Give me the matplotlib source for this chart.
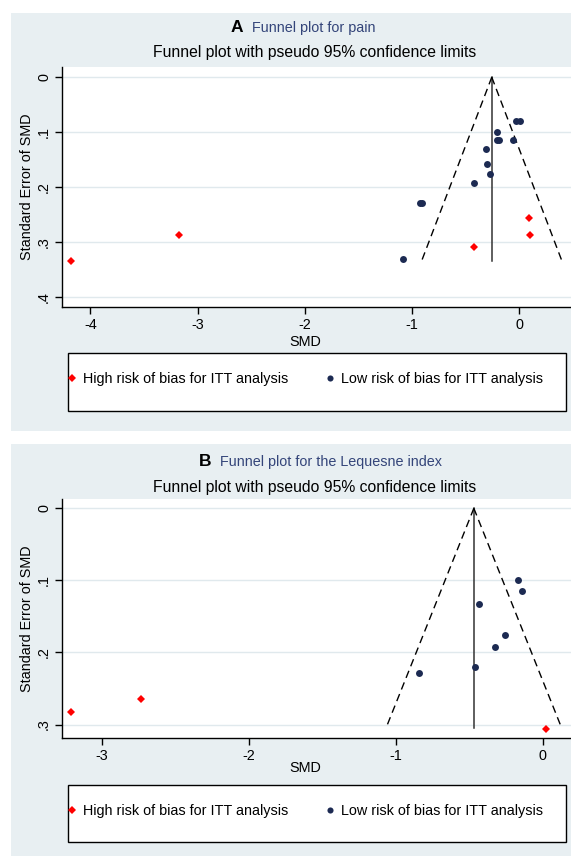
import numpy as np
import matplotlib
matplotlib.use("Agg")
import matplotlib.pyplot as plt
from matplotlib.patches import Rectangle
from matplotlib.lines import Line2D

plt.rcParams['font.family'] = ['Liberation Sans', 'DejaVu Sans']

# Panel A: pain
pain_low_smd = [-0.031, 0.007, -0.211, -0.205, -0.187, -0.056, -0.313, -0.299, -0.273, -0.420, -0.926, -0.908, -1.082]
pain_low_se = [0.0795, 0.0795, 0.0995, 0.115, 0.115, 0.1145, 0.131, 0.158, 0.176, 0.193, 0.229, 0.229, 0.331]
pain_high_smd = [0.090, 0.100, -0.420, -4.179, -3.177]
pain_high_se = [0.256, 0.287, 0.308, 0.3335, 0.287]
pain_pooled = -0.257
pain_se_max = 0.334

# Panel B: Lequesne index
leq_low_smd = [-0.166, -0.143, -0.433, -0.259, -0.322, -0.463, -0.844]
leq_low_se = [0.0994, 0.1143, 0.1327, 0.176, 0.192, 0.2205, 0.228]
leq_high_smd = [0.022, -3.207, -2.735]
leq_high_se = [0.306, 0.2825, 0.265]
leq_pooled = -0.468
leq_se_max = 0.305

W, H = 571, 856
BG = '#e8eff2'
NAVY = '#1c2a52'
TITLE_C = '#34457a'
FS = 10.4
MS_DOT = 5.0
MS_DIA = 4.4

fig = plt.figure(figsize=(W / 100, H / 100), dpi=100)
fig.patch.set_facecolor('white')


def fx(px):
    return px / W


def fy(py):
    return 1 - py / H


def panel(top, bottom, ax_top, ax_bot, xlim, ylim, xticks, yticks, low, high, pooled, se_max,
          letter, title, title_y, letter_right, sub_y, sml_y, leg_top, leg_bot):
    # grey graph region
    fig.patches.append(Rectangle((fx(10.7), fy(bottom)), fx(W), fy(top) - fy(bottom),
                                 transform=fig.transFigure, facecolor=BG, edgecolor='none', zorder=-5))
    ax = fig.add_axes([fx(62.3), fy(ax_bot), 1 - fx(62.3), fy(ax_top) - fy(ax_bot)])
    ax.set_zorder(2)
    ax.set_facecolor('white')
    ax.set_xlim(*xlim)
    ax.set_ylim(*ylim)
    for t in yticks:
        ax.axhline(t, color='#e0e9ed', lw=1.0, zorder=1)
    # funnel
    se = np.array([0, se_max])
    ax.plot([pooled, pooled], se, color='#333333', lw=1.1, zorder=2)
    ax.plot(pooled - 1.96 * se, se, color='black', lw=1.0, ls=(0, (5.5, 3.5)), zorder=2)
    ax.plot(pooled + 1.96 * se, se, color='black', lw=1.0, ls=(0, (5.5, 3.5)), zorder=2)
    ax.plot(low[0], low[1], 'o', color=NAVY, ms=MS_DOT, mew=0, zorder=3)
    ax.plot(high[0], high[1], 'D', color='#ff0000', ms=MS_DIA, mew=0, zorder=3)

    for s in ['top', 'right']:
        ax.spines[s].set_visible(False)
    for s in ['left', 'bottom']:
        ax.spines[s].set_linewidth(1.0)
        ax.spines[s].set_color('black')
    ax.set_xticks(xticks)
    ax.set_xticklabels(['%d' % t for t in xticks])
    ax.set_yticks(yticks)
    ax.set_yticklabels(['0'] + [('%.1f' % t)[1:] for t in yticks[1:]])
    ax.tick_params(axis='both', length=5, width=1, labelsize=FS, direction='out')
    ax.tick_params(axis='x', pad=3)
    ax.tick_params(axis='y', pad=3, labelrotation=90)
    for lab in ax.get_yticklabels():
        lab.set_va('center')
    ax.set_ylabel('Standard Error of SMD', fontsize=FS, labelpad=2)
    fig.text(fx(305), fy(sml_y), 'SMD', fontsize=FS, ha='center', va='center')

    fig.text(fx(letter_right), fy(title_y), letter, fontsize=12.5, fontweight='bold', ha='right', va='center')
    fig.text(fx(letter_right + 9), fy(title_y), title, fontsize=FS, color=TITLE_C, ha='left', va='center')
    fig.text(fx(314.8), fy(sub_y), 'Funnel plot with pseudo 95% confidence limits', fontsize=11.3,
             ha='center', va='center')

    # legend box
    fig.patches.append(Rectangle((fx(67.7), fy(leg_bot)), fx(566) - fx(67.7), fy(leg_top) - fy(leg_bot),
                                 transform=fig.transFigure, facecolor='white', edgecolor='black', lw=1.0, zorder=1))
    handles = [Line2D([], [], marker='D', color='#ff0000', ls='none', ms=MS_DIA, mew=0),
               Line2D([], [], marker='o', color=NAVY, ls='none', ms=MS_DOT - 0.6, mew=0)]
    labels = ['High risk of bias for ITT analysis', 'Low risk of bias for ITT analysis']
    leg = fig.legend(handles, labels, ncol=2, loc='center left',
                     bbox_to_anchor=(fx(66), fy(leg_top + 26)), frameon=False, fontsize=FS,
                     handlelength=0.8, handletextpad=0.4, columnspacing=2.45,
                     borderpad=0, borderaxespad=0, numpoints=1)
    leg.set_zorder(5)
    return ax


panel(12.7, 431.5, 67.3, 306.7, (-4.263, 0.482), (0.417, -0.018), [-4, -3, -2, -1, 0],
      [0, 0.1, 0.2, 0.3, 0.4], (pain_low_smd, pain_low_se), (pain_high_smd, pain_high_se),
      pain_pooled, pain_se_max, 'A', 'Funnel plot for pain', 28, 243.5, 52.7, 341.7, 353.3, 411)

panel(444, 856, 499, 737.5, (-3.268, 0.193), (0.318, -0.0129), [-3, -2, -1, 0],
      [0, 0.1, 0.2, 0.3], (leq_low_smd, leq_low_se), (leq_high_smd, leq_high_se),
      leq_pooled, leq_se_max, 'B', 'Funnel plot for the Lequesne index', 461.7, 211, 487.3, 768.3, 785, 841.7)

fig.savefig('out.png', dpi=100)
